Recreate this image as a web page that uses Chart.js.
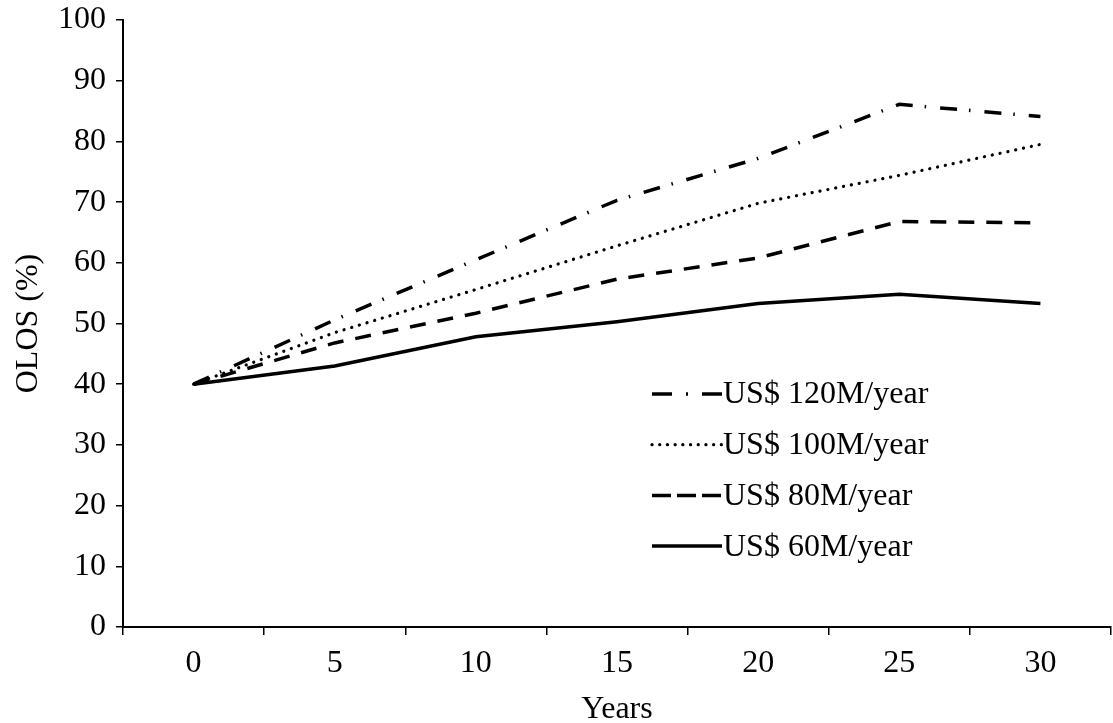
<!DOCTYPE html>
<html>
<head>
<meta charset="utf-8">
<script src="https://cdn.jsdelivr.net/npm/chart.js@4"></script>
<style>
  html, body { margin:0; padding:0; background:#fff; }
  #wrap { width:1113px; height:723px; position:relative; }
</style>
</head>
<body>
<div id="wrap"><canvas id="olosChart"></canvas></div>
<script>
const years = ['0','5','10','15','20','25','30'];
const usd60 = [40, 43.0, 47.8, 50.3, 53.3, 54.8, 53.3];
const usd80 = [40, 46.8, 51.7, 57.3, 60.8, 66.8, 66.6];
const usd100 = [40, 48.5, 55.6, 62.8, 69.8, 74.4, 79.5];
const usd120 = [40, 50.6, 60.5, 70.3, 77.2, 86.1, 84.1];
const seriesLabels = ['US$ 60M/year','US$ 80M/year','US$ 100M/year','US$ 120M/year'];

const FONT = "'Liberation Serif', 'Times New Roman', serif";
const FSIZE = 32;

// legend drawn inside the plot, 120M first
const insideLegend = {
    id: 'insideLegend',
    afterDatasetsDraw(chart){
        const ctx = chart.ctx;
        const order = [3,2,1,0];
        const x0 = 652, x1 = 722, yStart = 394, step = 50.7;
        ctx.save();
        ctx.font = FSIZE + 'px ' + FONT;
        ctx.fillStyle = '#000';
        ctx.textBaseline = 'middle';
        order.forEach((di, i) => {
            const ds = chart.data.datasets[di];
            const y = yStart + i*step;
            ctx.beginPath();
            ctx.strokeStyle = '#000';
            ctx.lineWidth = ds.borderWidth;
            ctx.lineCap = ds.borderCapStyle || 'butt';
            ctx.setLineDash(ds.legendDash || []);
            ctx.moveTo(x0, y);
            ctx.lineTo(x1, y);
            ctx.stroke();
            ctx.setLineDash([]);
            ctx.fillText(ds.label, x1 + 1, y + 1);
        });
        ctx.restore();
    }
};

const ctx = document.getElementById('olosChart').getContext('2d');
new Chart(ctx, {
    type: 'line',
    data: {
        labels: years,
        datasets: [
            { label: seriesLabels[0], data: usd60, borderColor:'#000', borderWidth:3.5, pointRadius:0, tension:0, borderDash:[] },
            { label: seriesLabels[1], data: usd80, borderColor:'#000', borderWidth:3.5, pointRadius:0, tension:0, borderDash:[16,12], legendDash:[19,6] },
            { label: seriesLabels[2], data: usd100, borderColor:'#000', borderWidth:3.2, pointRadius:0, tension:0, borderDash:[0.1,7.9], borderCapStyle:'round', legendDash:[0.1,7.6] },
            { label: seriesLabels[3], data: usd120, borderColor:'#000', borderWidth:3.5, pointRadius:0, tension:0, borderDash:[17,12,1.5,14], legendDash:[20,14,2,14] }
        ]
    },
    options: {
        responsive: true,
        maintainAspectRatio: false,
        animation: false,
        layout: { padding: { top: 20, right: 2, left: 0, bottom: 0 } },
        plugins: {
            legend: { display: false },
            tooltip: { enabled: false }
        },
        scales: {
            x: {
                type: 'category',
                offset: true,
                grid: { offset: true, drawOnChartArea: false, drawTicks: true, tickLength: 8, color:'#000', lineWidth: 1.5 },
                border: { color:'#000', width: 2 },
                ticks: { color:'#000', font: { family: FONT, size: FSIZE }, padding: 9, maxRotation: 0 },
                title: { display: true, text: 'Years', color:'#000', font: { family: FONT, size: FSIZE, lineHeight: 0.85 }, padding: { top: 0, bottom: 0 } },
                afterFit: s => { s.height = 96; s.paddingLeft = 0; s.paddingRight = 0; }
            },
            y: {
                min: 0, max: 100,
                ticks: { stepSize: 10, color:'#000', font: { family: FONT, size: FSIZE }, padding: 10 },
                grid: { drawOnChartArea: false, drawTicks: true, tickLength: 7, color:'#000', lineWidth: 1.5 },
                border: { color:'#000', width: 2 },
                title: { display: true, text: 'OLOS (%)', color:'#000', font: { family: FONT, size: FSIZE }, padding: { top: 9, bottom: 0 } },
                afterFit: s => { s.width = 123; s.paddingTop = 0; s.paddingBottom = 0; }
            }
        }
    },
    plugins: [insideLegend]
});
</script>
</body>
</html>
